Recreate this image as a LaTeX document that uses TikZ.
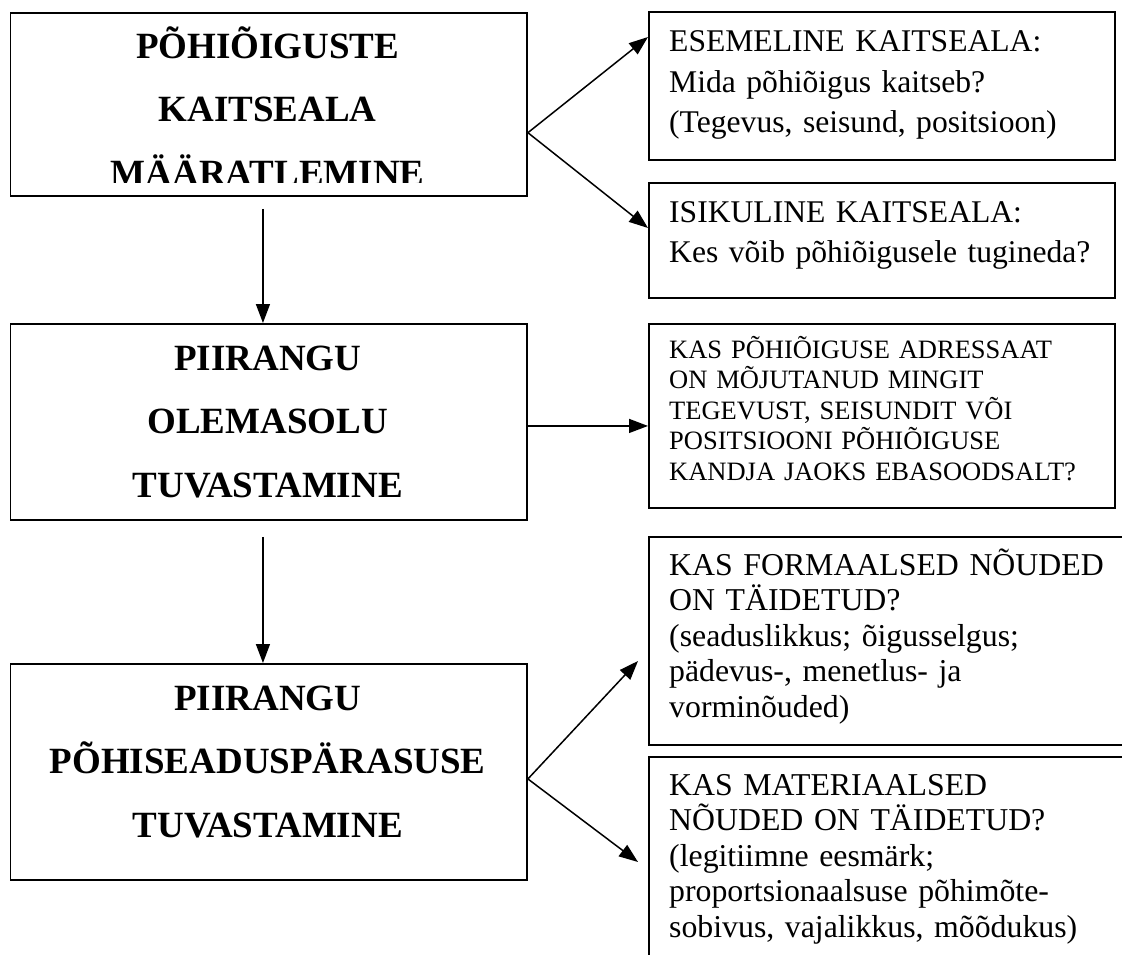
\documentclass[tikz,border=0pt]{standalone}
\usepackage{fontspec}
\setmainfont{Liberation Serif}
\usetikzlibrary{arrows.meta}
\begin{document}
\begin{tikzpicture}[x=1pt,y=-1pt,
  box/.style={draw, line width=1.9pt, rectangle, inner sep=0pt, anchor=north west},
  title/.style={font=\bfseries\fontsize{37}{63.5}\selectfont, text width=500pt, align=center, inner sep=0pt, anchor=base},
  bodyA/.style={font=\fontsize{31.6}{40.5}\selectfont, text width=450pt, align=left, inner sep=0pt, anchor=base west},
  bodyC/.style={font=\fontsize{26.5}{30.5}\selectfont, text width=440pt, align=left, inner sep=0pt, anchor=base west},
  bodyD/.style={font=\fontsize{31.8}{35.5}\selectfont, text width=450pt, align=left, inner sep=0pt, anchor=base west},
  conn/.style={line width=1.5pt, -{Triangle[length=19pt,width=14pt]}}]
\fill[white] (0,0) rectangle (1122,955);
\path[use as bounding box, clip] (0,0) rectangle (1122,955);

% boxes
\node[box, minimum width=516.5pt, minimum height=182.5pt] (b1) at (9.5,12.5) {};
\node[box, minimum width=466pt, minimum height=148pt] (bA) at (648,11) {};
\node[box, minimum width=466pt, minimum height=115pt] (bB) at (648,182) {};
\node[box, minimum width=516.5pt, minimum height=196pt] (b2) at (9.5,323) {};
\node[box, minimum width=466pt, minimum height=184pt] (bC) at (648,323) {};
\node[box, minimum width=516.5pt, minimum height=216pt] (b4) at (9.5,663) {};
\node[box, minimum width=520pt, minimum height=208pt] (bD) at (648,536) {};
\node[box, minimum width=520pt, minimum height=260pt] (bE) at (648,756) {};

% texts
\begin{scope}
\clip (9.5,12.5) rectangle (526,182.5);
\node[title] (t1) at (267.75,58.5) {PÕHIÕIGUSTE\\KAITSEALA\\MÄÄRATLEMINE};
\end{scope}
\node[bodyA] (tA) at (669,52) {ESEMELINE KAITSEALA:\\Mida põhiõigus kaitseb?\\(Tegevus, seisund, positsioon)};
\node[bodyA] (tB) at (669,222) {ISIKULINE KAITSEALA:\\Kes võib põhiõigusele tugineda?};
\node[title] (t2) at (267.75,370) {PIIRANGU\\OLEMASOLU\\TUVASTAMINE};
\node[bodyC] (tC) at (669,358) {KAS PÕHIÕIGUSE ADRESSAAT\\ON MÕJUTANUD MINGIT\\TEGEVUST, SEISUNDIT VÕI\\POSITSIOONI PÕHIÕIGUSE\\KANDJA JAOKS EBASOODSALT?};
\node[title] (t4) at (267.75,710) {PIIRANGU\\PÕHISEADUSPÄRASUSE\\TUVASTAMINE};
\node[bodyD] (tD) at (669,575) {KAS FORMAALSED NÕUDED\\ON TÄIDETUD?\\(seaduslikkus; õigusselgus;\\pädevus-, menetlus- ja\\vorminõuded)};
\node[bodyD] (tE) at (669,795) {KAS MATERIAALSED\\NÕUDED ON TÄIDETUD?\\(legitiimne eesmärk;\\proportsionaalsuse põhimõte-\\sobivus, vajalikkus, mõõdukus)};

% connectors
\draw[conn] ([yshift=-28pt]b1.east) -- ([yshift=-26pt]bA.north west);
\draw[conn] ([yshift=-28pt]b1.east) -- ([yshift=-46pt]bB.north west);
\draw[conn] ([xshift=-5.75pt,yshift=-12pt]b1.south) -- ([xshift=-5.75pt]b2.north);
\draw[conn] ([yshift=-4pt]b2.east) -- ([yshift=-10pt]bC.west);
\draw[conn] ([xshift=-5.75pt,yshift=-16pt]b2.south) -- ([xshift=-5.75pt]b4.north);
\draw[conn] ([yshift=-7pt]b4.east) -- ([xshift=-10pt,yshift=-125pt]bD.north west);
\draw[conn] ([yshift=-7pt]b4.east) -- ([xshift=-10pt,yshift=-106pt]bE.north west);
\end{tikzpicture}
\end{document}
